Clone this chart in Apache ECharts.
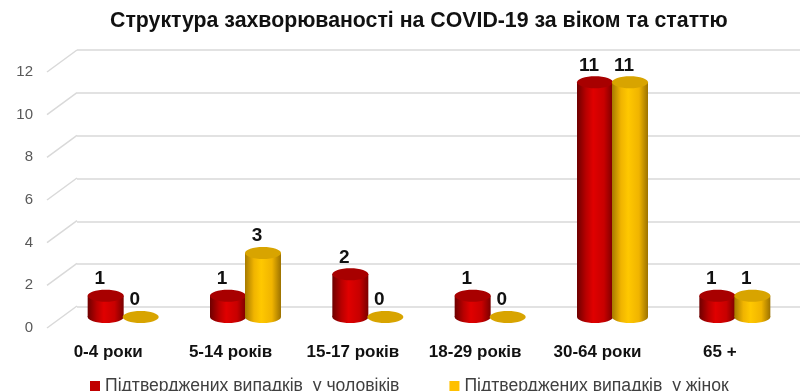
<!DOCTYPE html>
<html><head><meta charset="utf-8">
<script src="https://cdn.jsdelivr.net/npm/echarts@6/dist/echarts.min.js"></script>
<style>html,body{margin:0;padding:0;background:#fff}#c{width:800px;height:391px}</style>
</head><body><div id="c"></div>
<script>
const categories = ['0-4 роки', '5-14 років', '15-17 років', '18-29 років', '30-64 роки', '65 +'];
const menValues = [1, 1, 2, 1, 11, 1];
const womenValues = [0, 3, 0, 0, 11, 1];
const gridTicks = [0, 2, 4, 6, 8, 10, 12];
const seriesNames = ['Підтверджених випадків  у чоловіків', 'Підтверджених випадків  у жінок'];
const FONT = "'Liberation Sans', sans-serif";

const palettes = [
  { body: ['#6e0000', '#b80000', '#e00000', '#c80000', '#7a0000'], top: '#a80000', legend: '#C00000' },
  { body: ['#a67a00', '#f0b400', '#ffc800', '#f0b400', '#9c7200'], top: '#d8a400', legend: '#FFC000' }
];

function cylRender(si) {
  return function (params, api) {
    const idx = api.value(0), val = api.value(1);
    const base = api.coord([idx, 0]);
    const top = api.coord([idx, val]);
    const w = 36, ry = 6;
    const cx = base[0] + (si === 0 ? -17.5 : 17.5);
    const p = palettes[si];
    const grad = new echarts.graphic.LinearGradient(0, 0, 1, 0, [
      { offset: 0, color: p.body[0] }, { offset: 0.25, color: p.body[1] },
      { offset: 0.45, color: p.body[2] }, { offset: 0.75, color: p.body[3] },
      { offset: 1, color: p.body[4] }]);
    const children = [];
    if (val > 0) {
      children.push({ type: 'ellipse', shape: { cx: cx, cy: base[1], rx: w / 2, ry: ry }, style: { fill: grad } });
      children.push({ type: 'rect', shape: { x: cx - w / 2, y: top[1], width: w, height: base[1] - top[1] }, style: { fill: grad } });
    }
    children.push({ type: 'ellipse', shape: { cx: cx, cy: top[1], rx: w / 2, ry: ry }, style: { fill: p.top } });
    children.push({ type: 'text', style: { x: cx - 6, y: top[1] - 17, text: String(val), fill: '#111', font: "bold 19px " + FONT, align: 'center', verticalAlign: 'middle' } });
    return { type: 'group', children: children };
  };
}

const chart = echarts.init(document.getElementById('c'), null, { renderer: 'canvas' });
chart.setOption({
  animation: false,
  title: { text: 'Структура захворюваності на COVID-19 за віком та статтю', left: 105, top: 6,
    textStyle: { fontFamily: FONT, fontWeight: 'bold', fontSize: 21.3, color: '#111' } },
  legend: { data: seriesNames, top: 372, left: 85, itemWidth: 10, itemHeight: 10, itemGap: 50, icon: 'rect',
    textStyle: { fontFamily: FONT, fontSize: 17.6, color: '#404040' } },
  grid: [
    { left: 47, right: 19, top: 72, bottom: 63 },
    { left: 77, right: 0, top: 50, bottom: 84 },
    { left: 62, right: 4, top: 61, bottom: 74 }
  ],
  xAxis: [
    { type: 'category', gridIndex: 0, data: categories, axisLine: { show: false }, axisTick: { show: false },
      axisLabel: { margin: 16, fontFamily: FONT, fontWeight: 'bold', fontSize: 17, color: '#111' } },
    { type: 'category', gridIndex: 1, data: categories, show: false },
    { type: 'category', gridIndex: 2, data: categories, show: false }
  ],
  yAxis: [
    { type: 'value', gridIndex: 0, min: 0, max: 12, interval: 2, splitLine: { show: false },
      axisLine: { show: false }, axisTick: { show: false },
      axisLabel: { margin: 14, fontFamily: FONT, fontSize: 15, color: '#595959' } },
    { type: 'value', gridIndex: 1, min: 0, max: 12, interval: 2, axisLabel: { show: false },
      axisLine: { show: false }, axisTick: { show: false },
      splitLine: { lineStyle: { color: '#d9d9d9', width: 1.5 } } },
    { type: 'value', gridIndex: 2, min: 0, max: 12, interval: 2, show: false, splitLine: { show: false } }
  ],
  series: [
    { type: 'custom', name: 'diag', xAxisIndex: 0, yAxisIndex: 0, silent: true,
      data: gridTicks.map(v => [0, v]),
      renderItem: function (params, api) {
        const y = api.coord([0, api.value(1)])[1];
        const x = params.coordSys.x;
        return { type: 'line', shape: { x1: x, y1: y, x2: x + 30, y2: y - 22 }, style: { stroke: '#d9d9d9', lineWidth: 1.5 } };
      } },
    { type: 'custom', name: seriesNames[0], xAxisIndex: 2, yAxisIndex: 2, itemStyle: { color: palettes[0].legend },
      data: menValues.map((v, i) => [i, v]), renderItem: cylRender(0) },
    { type: 'custom', name: seriesNames[1], xAxisIndex: 2, yAxisIndex: 2, itemStyle: { color: palettes[1].legend },
      data: womenValues.map((v, i) => [i, v]), renderItem: cylRender(1) }
  ]
});
</script></body></html>
